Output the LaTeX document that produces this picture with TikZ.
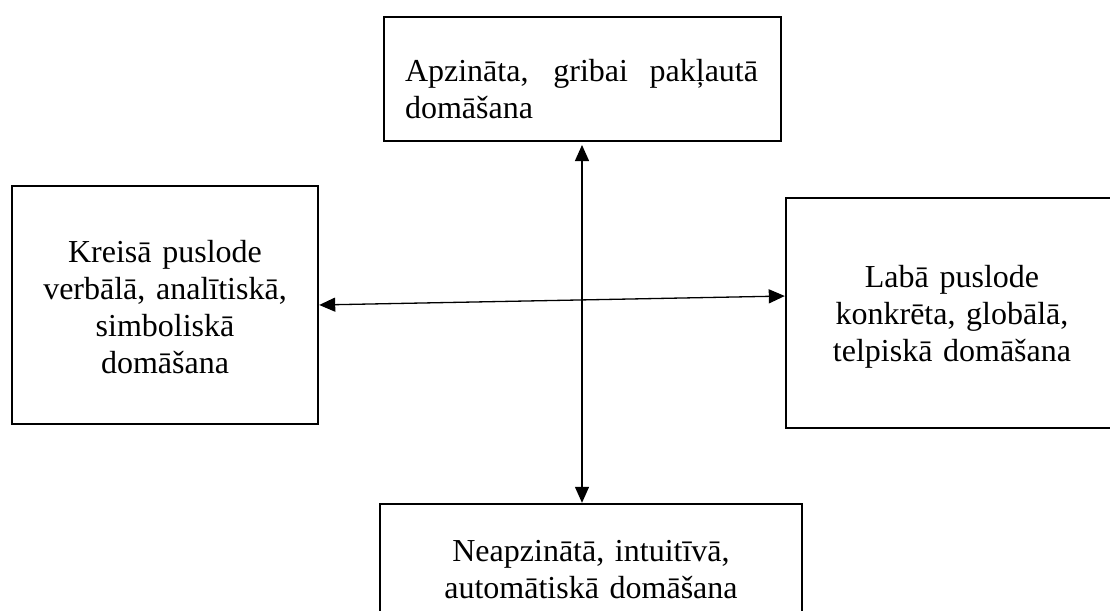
\documentclass[tikz,border=0pt]{standalone}
\usepackage{fontspec}
\setmainfont{Liberation Serif}
\usetikzlibrary{arrows.meta}
\begin{document}
\begin{tikzpicture}[x=1pt,y=-1pt,
  box/.style={draw, line width=2.5pt, inner sep=0pt, outer sep=0pt},
  lbl/.style={inner sep=0pt, outer sep=0pt, font=\fontsize{32}{37}\selectfont},
  arr/.style={line width=1.3pt, {Triangle[length=16pt,width=14pt]}-{Triangle[length=16pt,width=14pt]}}]
\path[use as bounding box, clip] (0,0) rectangle (1110,610);
\fill[white] (0,0) rectangle (1110,610);
% boxes
\node[box, minimum width=397pt, minimum height=124pt] (top) at (582.5,79) {};
\node[box, minimum width=306pt, minimum height=238pt] (left) at (165,305) {};
\node[box, minimum width=332pt, minimum height=230pt] (right) at (952,313) {};
\node[box, minimum width=422pt, minimum height=146pt] (bot) at (591,577) {};
% texts
\node[lbl, anchor=north west, text width=353pt, align=justify] (toptext) at (405,55.8)
  {\hyphenpenalty=10000 \strut Apzināta, gribai pakļautā domāšana};
\node[lbl, anchor=north, text width=300pt, align=center] (lefttext) at (165,237)
  {\strut Kreisā puslode\\verbālā, analītiskā,\\simboliskā\\domāšana};
\node[lbl, anchor=north, text width=326pt, align=center] (righttext) at (952,261.1)
  {\strut Labā puslode\\konkrēta, globālā,\\telpiskā domāšana};
\node[lbl, anchor=north, text width=416pt, align=center] (bottext) at (591,535.5)
  {\strut Neapzinātā, intuitīvā,\\automātiskā domāšana};
% connectors
\coordinate (vx) at (582,0);
\coordinate (hl) at (0,305);
\coordinate (hr) at (0,296);
\draw[arr, shorten <=4pt, shorten >=1.2pt] (top.south -| vx) -- (bot.north -| vx);
\draw[arr, shorten <=1.2pt, shorten >=1.2pt] (left.east |- hl) -- (right.west |- hr);
\end{tikzpicture}
\end{document}
